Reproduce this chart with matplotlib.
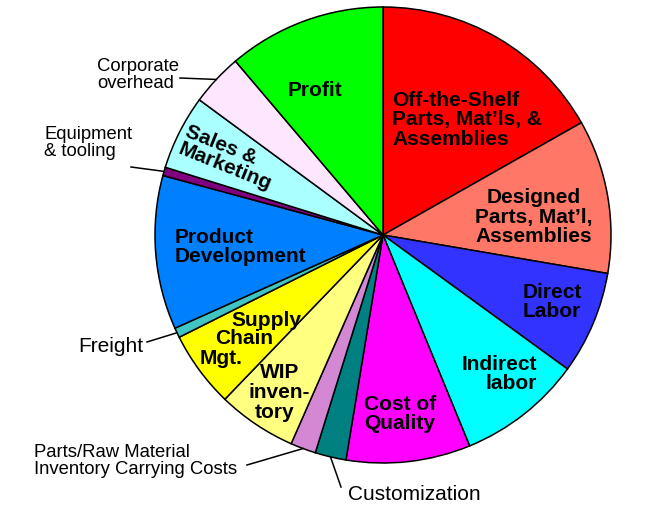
"""
Cost breakdown pie chart (recreation).
"""

import matplotlib

matplotlib.use("Agg")
import matplotlib.pyplot as plt
import numpy as np

plt.rcParams["font.family"] = ["Liberation Sans", "DejaVu Sans"]

# slice shares in percent, clockwise from 12 o'clock
categories = [
    "Off-the-Shelf Parts, Mat'ls, & Assemblies",
    "Designed Parts, Mat'l, Assemblies",
    "Direct Labor",
    "Indirect labor",
    "Cost of Quality",
    "Customization",
    "Parts/Raw Material Inventory Carrying Costs",
    "WIP inventory",
    "Supply Chain Mgt.",
    "Freight",
    "Product Development",
    "Equipment & tooling",
    "Sales & Marketing",
    "Corporate overhead",
    "Profit",
]
shares = [16.8, 10.9, 7.3, 8.8, 8.8, 2.2, 1.8, 5.6, 5.4, 0.7, 10.9, 0.6, 5.3, 3.7, 11.2]
colors = [
    "#FF0000", "#FF7766", "#3333FF", "#00FFFF", "#FF00FF",
    "#008080", "#D488D4", "#FFFF80", "#FFFF00", "#40C4C4",
    "#0080FF", "#800080", "#AAFFFF", "#FFE6FF", "#00FF00",
]

# labels drawn inside the wedges: text, (x, y) in image pixels, align, rotation
inside_labels = [
    ("Off-the-Shelf\nParts, Mat\u2019ls, &\nAssemblies", (392, 120), "left", 0),
    ("Designed\nParts, Mat\u2019l,\nAssemblies", (534, 217), "center", 0),
    ("Direct\nLabor", (552, 302), "center", 0),
    ("Indirect\nlabor", (537, 374), "right", 0),
    ("Cost of\nQuality", (400, 414), "center", 0),
    ("WIP", (280, 373), "center", 0),
    ("inven-", (279, 393), "center", 0),
    ("tory", (275, 413), "center", 0),
    ("Supply", (266, 320), "center", 0),
    ("Chain", (244, 339), "center", 0),
    ("Mgt.", (221, 358), "center", 0),
    ("Product\nDevelopment", (175, 247), "left", 0),
    ("Sales &", (221, 145), "center", -22),
    ("Marketing", (225, 167), "center", -22),
    ("Profit", (315, 91), "center", 0),
]

# labels outside the pie with a leader line: index of slice, text, text pos, size, leader start
outside_labels = [
    (13, "Corporate\noverhead", (97, 75), 13.3, (180, 78)),
    (11, "Equipment\n& tooling", (44, 143), 13.3, (131, 167)),
    (9, "Freight", (78, 346), 15, (147, 342)),
    (6, "Parts/Raw Material\nInventory Carrying Costs", (34, 461), 13.3, (247, 465)),
    (5, "Customization", (348, 494), 15, (341, 487)),
]

WIDTH, HEIGHT = 672, 507
CENTER = (383, 235)
RADIUS = 228


def flip(point):
    """Image pixel coords (y down) to data coords (y up)."""
    return point[0], HEIGHT - point[1]


fig = plt.figure(figsize=(WIDTH / 100, HEIGHT / 100), dpi=100)
ax = fig.add_axes([0, 0, 1, 1])

wedges, _ = ax.pie(
    shares,
    colors=colors,
    startangle=90,
    counterclock=False,
    center=flip(CENTER),
    radius=RADIUS,
    wedgeprops={"edgecolor": "black", "linewidth": 1.1},
    frame=True,
)
ax.set_xlim(0, WIDTH)
ax.set_ylim(0, HEIGHT)
ax.set_aspect("equal")
ax.axis("off")

for text, pos, align, rot in inside_labels:
    x, y = flip(pos)
    ax.text(
        x, y, text,
        ha=align, va="center", rotation=rot, rotation_mode="anchor",
        fontsize=15, fontweight="bold", linespacing=1.05,
        multialignment=align,
    )

cx, cy = flip(CENTER)
for idx, text, pos, size, start in outside_labels:
    wedge = wedges[idx]
    mid = np.deg2rad((wedge.theta1 + wedge.theta2) / 2)
    end = (cx + RADIUS * np.cos(mid), cy + RADIUS * np.sin(mid))
    sx, sy = flip(start)
    ax.plot([sx, end[0]], [sy, end[1]], color="black", linewidth=1.1)
    x, y = flip(pos)
    ax.text(x, y, text, ha="left", va="center", fontsize=size, linespacing=0.98)

fig.savefig("out.png", dpi=100)
plt.close(fig)
